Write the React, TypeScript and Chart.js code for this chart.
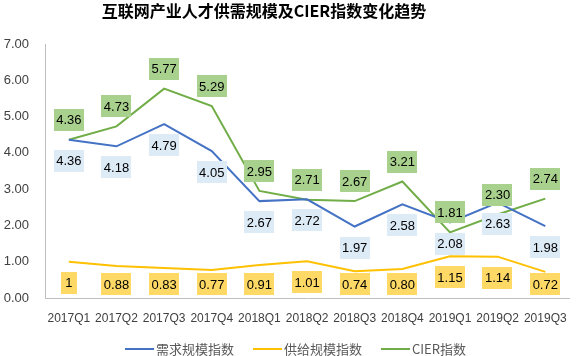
import React, { useEffect, useRef } from 'react';
import { Chart, registerables } from 'chart.js';

Chart.register(...registerables);

const titleText = '互联网产业人才供需规模及CIER指数变化趋势';
const categories = ['2017Q1', '2017Q2', '2017Q3', '2017Q4', '2018Q1', '2018Q2', '2018Q3', '2018Q4', '2019Q1', '2019Q2', '2019Q3'];
const demandIndex = [4.36, 4.18, 4.79, 4.05, 2.67, 2.72, 1.97, 2.58, 2.08, 2.63, 1.98];
const supplyIndex = [1, 0.88, 0.83, 0.77, 0.91, 1.01, 0.74, 0.80, 1.15, 1.14, 0.72];
const cierIndex = [4.36, 4.73, 5.77, 5.29, 2.95, 2.71, 2.67, 3.21, 1.81, 2.30, 2.74];
const seriesNames = ['需求规模指数', '供给规模指数', 'CIER指数'];

const LATIN = '"Liberation Sans", "Noto Sans CJK SC", sans-serif';
const CJK = '"Noto Sans CJK SC", "Liberation Sans", sans-serif';

const fmt = (v: number) => (Number.isInteger(v) ? String(v) : v.toFixed(2));

const boxLabelPlugin = {
  id: 'boxLabels',
  afterDatasetsDraw(chart: any) {
    const ctx = chart.ctx;
    const area = chart.chartArea;
    ctx.save();
    ctx.font = '13px ' + LATIN;
    ctx.textAlign = 'center';
    ctx.textBaseline = 'middle';
    chart.data.datasets.forEach((ds: any, i: number) => {
      const meta = chart.getDatasetMeta(i);
      const cfg = ds.boxLabel;
      meta.data.forEach((pt: any, j: number) => {
        const text = fmt(ds.data[j]);
        const w = Math.max(16, ctx.measureText(text).width + 5);
        const h = 22;
        let cx = pt.x;
        let cy = pt.y + cfg.offset;
        cx = Math.min(cx, area.right - w / 2 - 1);
        cy = Math.min(cy, area.bottom - h / 2 - 3);
        ctx.fillStyle = cfg.fill;
        ctx.fillRect(Math.round(cx - w / 2), Math.round(cy - h / 2), Math.round(w), h);
        ctx.fillStyle = '#000000';
        ctx.fillText(text, cx, cy + 1);
      });
    });
    ctx.restore();
  },
};

const titleLegendPlugin = {
  id: 'titleLegend',
  afterDraw(chart: any) {
    const ctx = chart.ctx;
    ctx.save();
    ctx.font = 'bold 16px ' + CJK;
    ctx.fillStyle = '#000000';
    ctx.textAlign = 'center';
    ctx.textBaseline = 'middle';
    ctx.fillText(titleText, 264, 11);
    ctx.font = '13px ' + CJK;
    ctx.textAlign = 'left';
    const lineLen = 29;
    const gap = 2;
    const itemGap = 19;
    const items = chart.data.datasets.map((ds: any) => ({
      label: ds.label,
      color: ds.borderColor,
      tw: ctx.measureText(ds.label).width,
    }));
    const total = items.reduce((s: number, it: any) => s + lineLen + gap + it.tw, 0) + itemGap * (items.length - 1);
    let x = 295.5 - total / 2;
    const y = 349;
    items.forEach((it: any) => {
      ctx.strokeStyle = it.color;
      ctx.lineWidth = 2;
      ctx.beginPath();
      ctx.moveTo(x, y);
      ctx.lineTo(x + lineLen, y);
      ctx.stroke();
      ctx.fillStyle = '#595959';
      ctx.fillText(it.label, x + lineLen + gap, y);
      x += lineLen + gap + it.tw + itemGap;
    });
    ctx.restore();
  },
};

export default function App() {
  const ref = useRef<HTMLCanvasElement | null>(null);
  useEffect(() => {
    document.body.style.margin = '0';
    const canvas = ref.current;
    if (!canvas) return;
    const chart = new Chart(canvas, {
      type: 'line',
      data: {
        labels: categories,
        datasets: [
          {
            label: seriesNames[0],
            data: demandIndex,
            borderColor: '#4472C4',
            backgroundColor: '#4472C4',
            borderWidth: 2,
            pointRadius: 0,
            tension: 0,
            boxLabel: { offset: 21, fill: '#DDEBF7' },
          } as any,
          {
            label: seriesNames[1],
            data: supplyIndex,
            borderColor: '#FFC000',
            backgroundColor: '#FFC000',
            borderWidth: 2,
            pointRadius: 0,
            tension: 0,
            boxLabel: { offset: 21, fill: '#FFD966' },
          } as any,
          {
            label: seriesNames[2],
            data: cierIndex,
            borderColor: '#70AD47',
            backgroundColor: '#70AD47',
            borderWidth: 2,
            pointRadius: 0,
            tension: 0,
            boxLabel: { offset: -20, fill: '#A9D18E' },
          } as any,
        ],
      },
      options: {
        responsive: false,
        animation: false,
        layout: { padding: { top: 44, left: 0, right: 8, bottom: 28 } },
        plugins: {
          legend: { display: false },
          title: { display: false },
          tooltip: { enabled: false },
        },
        scales: {
          x: {
            offset: true,
            grid: { display: false, drawTicks: false },
            border: { display: true, color: '#BFBFBF', width: 1 },
            ticks: {
              color: '#404040',
              font: { family: LATIN, size: 12 },
              padding: 13,
              maxRotation: 0,
              autoSkip: false,
            },
            afterFit: (s: any) => {
              s.height = 30;
            },
          },
          y: {
            min: 0,
            max: 7,
            grid: { display: false, drawTicks: false },
            border: { display: true, color: '#BFBFBF', width: 1 },
            ticks: {
              stepSize: 1,
              color: '#404040',
              font: { family: LATIN, size: 13 },
              padding: 16,
              callback: (v: any) => Number(v).toFixed(2),
            },
            afterFit: (s: any) => {
              s.width = 45;
            },
          },
        },
      },
      plugins: [boxLabelPlugin, titleLegendPlugin],
    });
    return () => chart.destroy();
  }, []);
  return <canvas ref={ref} width={580} height={356} />;
}
